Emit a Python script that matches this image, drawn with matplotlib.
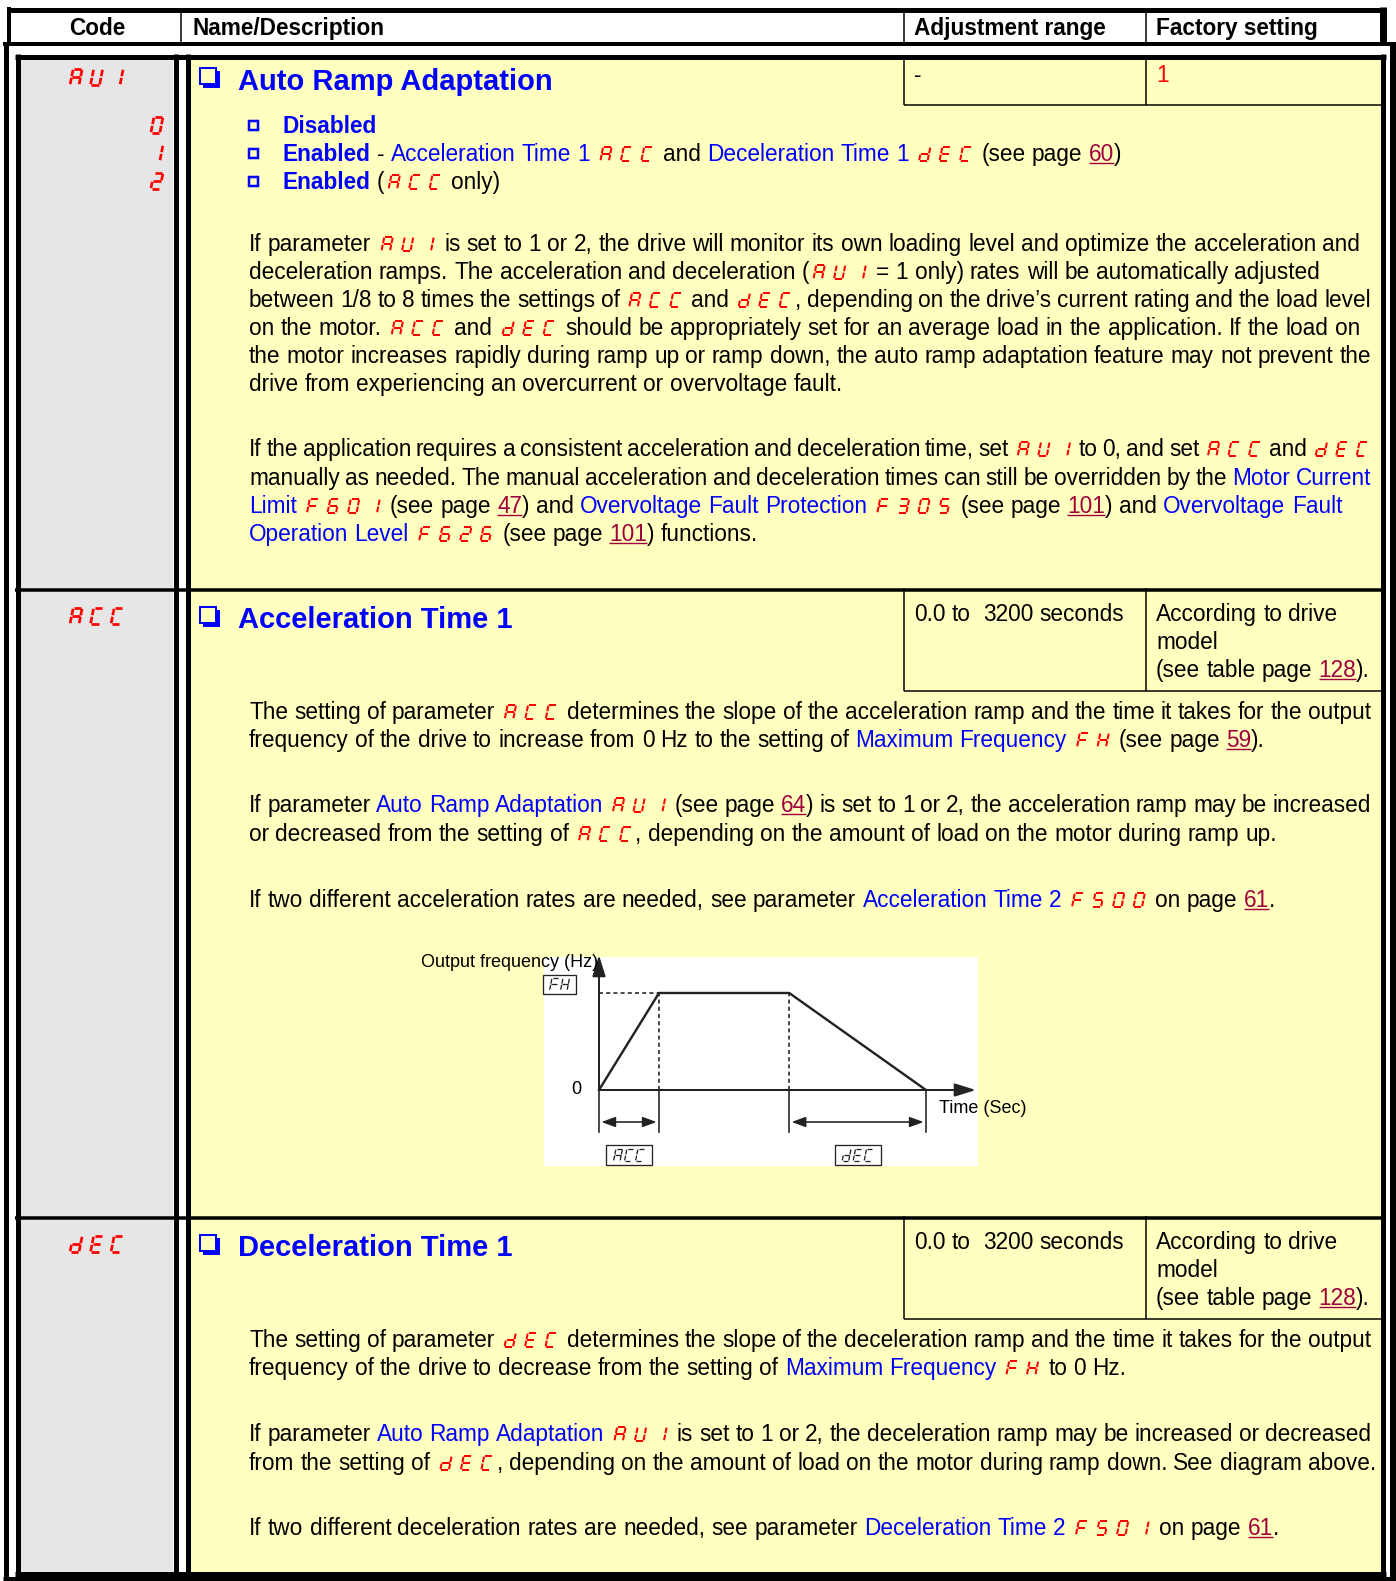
import re
import matplotlib
matplotlib.use('Agg')
import matplotlib.pyplot as plt
from matplotlib.patches import Rectangle
from matplotlib.font_manager import FontProperties

W, H = 1396, 1581
PX = 0.72  # one pixel in points at dpi=100

YELLOW = '#ffffbf'
GRAY = '#e6e6e6'
BLUE = '#0000ff'
RED = '#ff0000'
LINK = '#a0003c'
FONT = ['Liberation Sans', 'DejaVu Sans']
BODY = 16.3

# ---- table content ----
header_labels = ['Code', 'Name/Description', 'Adjustment range', 'Factory setting']
param_codes = ['AUI', 'ACC', 'dEC']
param_titles = ['Auto Ramp Adaptation', 'Acceleration Time 1', 'Deceleration Time 1']
adj_ranges = ['-', '0.0 to  3200 seconds', '0.0 to  3200 seconds']
aui_values = ['0', '1', '2']
factory_aui = '1'
factory_time = [[('According to drive', 'n')],
                [('model', 'n')],
                [('(see table page ', 'n'), ('128', 'lk'), (').', 'n')]]

aui_options = [
    [('Disabled', 'bb')],
    [('Enabled', 'bb'), (' - ', 'n'), ('Acceleration Time 1 ', 'bl'), ('ACC', 'cd'),
     (' and ', 'n'), ('Deceleration Time 1 ', 'bl'), ('dEC', 'cd'),
     (' (see page ', 'n'), ('60', 'lk'), (')', 'n')],
    [('Enabled', 'bb'), (' (', 'n'), ('ACC', 'cd'), (' only)', 'n')],
]

aui_text = [
    [('If parameter ', 'n'), ('AUI', 'cd'), (' is set to 1 or 2, the drive will monitor its own loading level and optimize the acceleration and', 'n')],
    [('deceleration ramps. The acceleration and deceleration (', 'n'), ('AUI', 'cd'), (' = 1 only) rates will be automatically adjusted', 'n')],
    [('between 1/8 to 8 times the settings of ', 'n'), ('ACC', 'cd'), (' and ', 'n'), ('dEC', 'cd'), (', depending on the drive\u2019s current rating and the load level', 'n')],
    [('on the motor. ', 'n'), ('ACC', 'cd'), (' and ', 'n'), ('dEC', 'cd'), (' should be appropriately set for an average load in the application. If the load on', 'n')],
    [('the motor increases rapidly during ramp up or ramp down, the auto ramp adaptation feature may not prevent the', 'n')],
    [('drive from experiencing an overcurrent or overvoltage fault.', 'n')],
    [('If the application requires a consistent acceleration and deceleration time, set ', 'n'), ('AUI', 'cd'), (' to 0, and set ', 'n'), ('ACC', 'cd'), (' and ', 'n'), ('dEC', 'cd')],
    [('manually as needed. The manual acceleration and deceleration times can still be overridden by the ', 'n'), ('Motor Current', 'bl')],
    [('Limit ', 'bl'), ('F601', 'cd'), (' (see page ', 'n'), ('47', 'lk'), (') and ', 'n'), ('Overvoltage Fault Protection ', 'bl'), ('F305', 'cd'), (' (see page ', 'n'), ('101', 'lk'), (') and ', 'n'), ('Overvoltage Fault', 'bl')],
    [('Operation Level ', 'bl'), ('F626', 'cd'), (' (see page ', 'n'), ('101', 'lk'), (') functions.', 'n')],
]
aui_text_y = [243, 271, 299, 327, 355, 383, 448, 477, 505, 533]
aui_text_end = [1360, 1320, 1371, 1360, 1371, None, 1368, 1371, 1342, None]

acc_text = [
    [('The setting of parameter ', 'n'), ('ACC', 'cd'), (' determines the slope of the acceleration ramp and the time it takes for the output', 'n')],
    [('frequency of the drive to increase from 0 Hz to the setting of ', 'n'), ('Maximum Frequency ', 'bl'), ('FH', 'cd'), (' (see page ', 'n'), ('59', 'lk'), (').', 'n')],
    [('If parameter ', 'n'), ('Auto Ramp Adaptation ', 'bl'), ('AUI', 'cd'), (' (see page ', 'n'), ('64', 'lk'), (') is set to 1 or 2, the acceleration ramp may be increased', 'n')],
    [('or decreased from the setting of ', 'n'), ('ACC', 'cd'), (', depending on the amount of load on the motor during ramp up.', 'n')],
    [('If two different acceleration rates are needed, see parameter ', 'n'), ('Acceleration Time 2 ', 'bl'), ('F500', 'cd'), (' on page ', 'n'), ('61', 'lk'), ('.', 'n')],
]
acc_text_y = [711, 739, 804, 833, 899]
acc_text_end = [1371, 1265, 1371, 1277, 1275]

dec_text = [
    [('The setting of parameter ', 'n'), ('dEC', 'cd'), (' determines the slope of the deceleration ramp and the time it takes for the output', 'n')],
    [('frequency of the drive to decrease from the setting of ', 'n'), ('Maximum Frequency ', 'bl'), ('FH', 'cd'), (' to 0 Hz.', 'n')],
    [('If parameter ', 'n'), ('Auto Ramp Adaptation ', 'bl'), ('AUI', 'cd'), (' is set to 1 or 2, the deceleration ramp may be increased or decreased', 'n')],
    [('from the setting of ', 'n'), ('dEC', 'cd'), (', depending on the amount of load on the motor during ramp down. See diagram above.', 'n')],
    [('If two different deceleration rates are needed, see parameter ', 'n'), ('Deceleration Time 2 ', 'bl'), ('F501', 'cd'), (' on page ', 'n'), ('61', 'lk'), ('.', 'n')],
]
dec_text_y = [1339, 1367, 1433, 1462, 1527]
dec_text_end = [1371, 1126, 1371, 1376, 1279]

# ramp diagram: time in units of the ACC ramp, frequency relative to FH
ramp_time = [0.0, 1.0, 3.17, 5.45]
ramp_freq = [0.0, 1.0, 1.0, 0.0]

# ---- figure ----
fig = plt.figure(figsize=(W / 100, H / 100), dpi=100, facecolor='white')
ax = fig.add_axes([0, 0, 1, 1])
ax.set_xlim(0, W)
ax.set_ylim(H, 0)
ax.set_axis_off()
rend = fig.canvas.get_renderer()


def box(x, y, w, h, color, z=0):
    ax.add_patch(Rectangle((x, y), w, h, facecolor=color, edgecolor='none', zorder=z))


def line(xs, ys, lw, color='black', z=3, target=None, **kw):
    tgt = target if target is not None else ax
    tgt.plot(xs, ys, color=color, lw=lw * PX, solid_capstyle='butt', zorder=z,
             transform=ax.transData, clip_on=False, **kw)


# seven segment display glyphs
SEG = {'a': ((0, 1), (1, 1)), 'b': ((1, .5), (1, 1)), 'c': ((1, 0), (1, .5)),
       'd': ((0, 0), (1, 0)), 'e': ((0, 0), (0, .5)), 'f': ((0, .5), (0, 1)),
       'g': ((0, .5), (1, .5))}
GLYPH = {'A': 'abcefg', 'U': 'bcdef', 'I': 'bc', '1': 'bc', 'C': 'adef',
         'd': 'bcdeg', 'E': 'adefg', 'F': 'aefg', 'H': 'bcefg', '0': 'abcdef',
         '2': 'abdeg', '3': 'abcdg', '5': 'acdfg', '6': 'acdefg'}
SLANT = 0.2


def seg7(x, yb, chars, h, w, pitch, color, lw, gap=0.7, target=None):
    for i, ch in enumerate(chars):
        x0 = x + i * pitch
        for s in GLYPH[ch]:
            (u1, v1), (u2, v2) = SEG[s]
            p1 = [u1 * w, v1 * h]
            p2 = [u2 * w, v2 * h]
            k = 0 if v1 == v2 else 1
            p1[k] += gap
            p2[k] -= gap
            xs = [x0 + p[0] + p[1] * SLANT for p in (p1, p2)]
            ys = [yb - p[1] for p in (p1, p2)]
            line(xs, ys, lw, color=color, z=7, target=target)


CODE_H, CODE_W, CODE_P, CODE_PAD = 14, 8.5, 20.5, 4


def code_width(s, h=CODE_H, w=CODE_W, p=CODE_P):
    return (len(s) - 1) * p + w + h * SLANT


STYLE = {'n': ('black', 'normal'), 'bl': (BLUE, 'normal'), 'bb': (BLUE, 'bold'),
         'lk': (LINK, 'normal'), 'r': (RED, 'normal')}
_cache = {}


def adv(s, size, weight):
    key = (s, size, weight)
    if key not in _cache:
        fp = FontProperties(family=FONT, size=size, weight=weight)
        w1 = rend.get_text_width_height_descent('|' + s + '|', fp, ismath=False)[0]
        w0 = rend.get_text_width_height_descent('||', fp, ismath=False)[0]
        _cache[key] = w1 - w0
    return _cache[key]


def flow(x0, yc, runs, size=BODY, right=None):
    base = yc + 0.35 * size / PX
    items = []
    for text, st in runs:
        if st == 'cd':
            items.append(['c', text, st, code_width(text) + 2 * CODE_PAD])
            continue
        weight = STYLE[st][1]
        for part in re.split(r'( +)', text):
            if not part:
                continue
            kind = 's' if part[0] == ' ' else 'w'
            items.append([kind, part, st, adv(part, size, weight)])
    if right is not None:
        if items[-1][0] == 'c':
            right += CODE_PAD
        spaces = [it for it in items if it[0] == 's']
        extra = (right - x0 - sum(it[3] for it in items)) / max(len(spaces), 1)
        for it in spaces:
            it[3] = max(it[3] + extra, 2)
    x = x0
    for kind, part, st, w in items:
        if kind == 'c':
            seg7(x + CODE_PAD, base, part, CODE_H, CODE_W, CODE_P, RED, 2.0)
        elif kind == 'w':
            color, weight = STYLE[st]
            ax.text(x, base, part, fontsize=size, color=color, fontweight=weight,
                    family=FONT, ha='left', va='baseline', zorder=5)
            if st == 'lk':
                line([x, x + w], [base + 2.5] * 2, 1.4, color=LINK, z=5)
        x += w


# ---- backgrounds and frame ----
box(20, 59, 153, 1514, GRAY)
box(190, 59, 1191, 1514, YELLOW)

# header box
line([7, 1386], [9.5, 9.5], 5)
line([9, 9], [7, 45], 4)
line([1382.5, 1382.5], [7, 45], 7)
for xd in (181, 904, 1146):
    line([xd, xd], [9, 44], 1.5)
line([3, 1396], [44, 44], 4)

# outer and inner frame
line([5.5, 5.5], [44, 1581], 5)
line([1393, 1393], [44, 1581], 6)
line([3, 1396], [1579, 1579], 5)
line([15, 1386], [56.5, 56.5], 5)
line([17.5, 17.5], [54, 1576], 5)
line([1383, 1383], [54, 1576], 5)
line([15, 1386], [1573.5, 1573.5], 5)
line([175.5, 175.5], [54, 1576], 5)
line([187.5, 187.5], [54, 1576], 5)

# row separators
row_top = [59, 590, 1217.5]
for yr in row_top[1:]:
    line([15, 1386], [yr, yr], 3.5)

# adjustment / factory cells
cell_bottom = [105, 691, 1319]
for yt, yb in zip(row_top, cell_bottom):
    line([904, 904], [yt - 2, yb], 1.5)
    line([1146, 1146], [yt - 2, yb], 1.5)
    line([904, 1381], [yb, yb], 1.5)

# header labels
hdr_x = [97, 193, 914, 1156]
for i, lab in enumerate(header_labels):
    ax.text(hdr_x[i], 27 + 0.35 * BODY / PX, lab, fontsize=BODY, fontweight='bold',
            family=FONT, ha='center' if i == 0 else 'left', va='baseline', zorder=5)

# titles, codes and cell values
title_y = [79, 618, 1246]
for i in range(3):
    ty = title_y[i]
    # shadowed check box
    ax.add_patch(Rectangle((203, ty - 8), 17, 17, facecolor=BLUE, edgecolor='none', zorder=4))
    ax.add_patch(Rectangle((200, ty - 11), 16, 16, facecolor=YELLOW, edgecolor=BLUE,
                           lw=2 * PX, zorder=4))
    ax.text(238, ty + 10.5, param_titles[i], fontsize=21, fontweight='bold', color=BLUE,
            family=FONT, ha='left', va='baseline', zorder=5)
    seg7(70, ty + 6, param_codes[i], 16, 9, 20.5, RED, 2.7, gap=0.8)
    flow(914, ty - 5, [(adj_ranges[i], 'n')])

flow(1156, 74, [(factory_aui, 'r')])
for k in (1, 2):
    for j, runs in enumerate(factory_time):
        flow(1156, title_y[k] - 5 + 28 * j, runs)

# AUI option list
opt_y = [125, 153, 181]
for j, runs in enumerate(aui_options):
    yo = opt_y[j]
    ax.add_patch(Rectangle((249, yo - 4), 9, 9, facecolor='none', edgecolor=BLUE,
                           lw=2.5 * PX, zorder=4))
    flow(283, yo, runs)
    seg7(163 - 9 - 16 * SLANT, yo + 8, aui_values[j], 16, 9, 19, RED, 2.7, gap=0.8)

for lines_, ys, ends in ((aui_text, aui_text_y, aui_text_end),
                         (acc_text, acc_text_y, acc_text_end),
                         (dec_text, dec_text_y, dec_text_end)):
    for runs, yl, xe in zip(lines_, ys, ends):
        flow(249, yl, runs, right=xe)

# ---- ramp diagram ----
dx0, dx1, dy0, dy1 = 544, 978, 957, 1166
axd = fig.add_axes([dx0 / W, 1 - dy1 / H, (dx1 - dx0) / W, (dy1 - dy0) / H])
axd.set_facecolor('white')
axd.set_xticks([])
axd.set_yticks([])
for sp in axd.spines.values():
    sp.set_visible(False)
axd.set_xlim((dx0 - 599) / 60, (dx1 - 599) / 60)
axd.set_ylim((1090 - dy1) / 97, (1090 - dy0) / 97)

INK = '#222222'
lw_ax = 2.0 * PX
t_end_axis = 6.28
f_top_axis = 1.39
f_tick = -0.433
head = '-|>,head_length=0.8,head_width=0.25'
axd.annotate('', xy=(t_end_axis, 0), xytext=(0, 0), annotation_clip=False,
             arrowprops=dict(arrowstyle=head, lw=lw_ax, color=INK,
                             shrinkA=0, shrinkB=0, mutation_scale=16))
axd.annotate('', xy=(0, f_top_axis), xytext=(0, 0), annotation_clip=False,
             arrowprops=dict(arrowstyle=head, lw=lw_ax, color=INK,
                             shrinkA=0, shrinkB=0, mutation_scale=16))
axd.plot(ramp_time, ramp_freq, color=INK, lw=2.4 * PX, clip_on=False)
axd.plot([ramp_time[0], ramp_time[1]], [ramp_freq[1]] * 2, color=INK,
         lw=1.6 * PX, ls=(0, (2.5, 2)))
for t in ramp_time[1:3]:
    axd.plot([t, t], [0, 1], color=INK, lw=1.6 * PX, ls=(0, (2.5, 2)))
for t in ramp_time:
    axd.plot([t, t], [0, f_tick], color=INK, lw=1.6 * PX, clip_on=False)
for a, b in ((ramp_time[0], ramp_time[1]), (ramp_time[2], ramp_time[3])):
    axd.annotate('', xy=(b - 0.04, -0.33), xytext=(a + 0.04, -0.33),
                 arrowprops=dict(arrowstyle='<|-|>,head_length=0.6,head_width=0.22',
                                 lw=1.6 * PX, color=INK,
                                 shrinkA=0, shrinkB=0, mutation_scale=14))
axd.text(-2.967, 1.31, 'Output frequency (Hz)', fontsize=13, family=FONT,
         ha='left', va='center', clip_on=False)
axd.text(-0.38, 0.0, '0', fontsize=13, family=FONT, ha='center', va='center')
axd.text(5.667, -0.186, 'Time (Sec)', fontsize=13, family=FONT, ha='left',
         va='center', clip_on=False)


def d2p(t, f):
    return ax.transData.inverted().transform(axd.transData.transform((t, f)))


def boxed_code(t, f, s, bw, bh):
    cx, cy = d2p(t, f)
    axd.add_patch(Rectangle((cx - bw / 2, cy - bh / 2), bw, bh, facecolor='white',
                            edgecolor=INK, lw=1.3 * PX, zorder=6,
                            transform=ax.transData, clip_on=False))
    gw = code_width(s, 12, 6.5, 11)
    seg7(cx - gw / 2, cy + 6, s, 12, 6.5, 11, INK, 1.3, gap=0.6, target=axd)


boxed_code(-0.658, 1.09, 'FH', 33, 19)
boxed_code((ramp_time[0] + ramp_time[1]) / 2, -0.67, 'ACC', 46, 20)
boxed_code((ramp_time[2] + ramp_time[3]) / 2, -0.67, 'dEC', 46, 20)

fig.savefig('out.png', dpi=100, facecolor='white')
